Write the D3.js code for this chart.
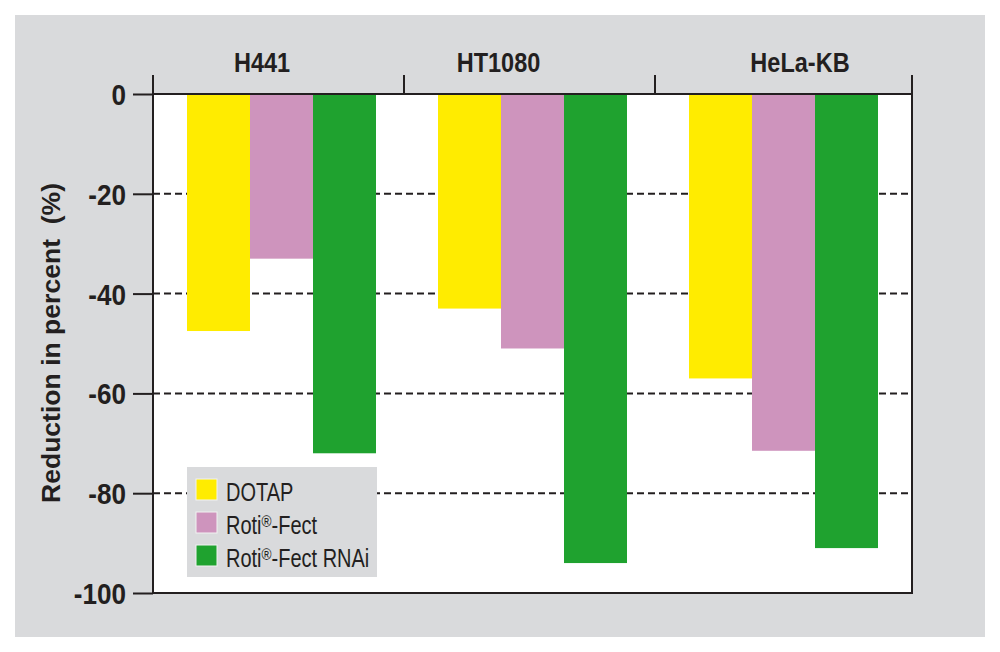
<!DOCTYPE html>
<html><head><meta charset="utf-8">
<script src="https://cdn.jsdelivr.net/npm/d3@7"></script>
<style>
body{margin:0;background:#fff;}
svg{display:block;}
text{font-family:"Liberation Sans",Arial,Helvetica,sans-serif;}
</style></head>
<body><svg id="c" width="1000" height="652"></svg>
<script>
const categories = ["H441", "HT1080", "HeLa-KB"];
const seriesNames = ["DOTAP", "Roti®-Fect", "Roti®-Fect RNAi"];
const dotap = [-47.5, -43, -57];
const rotiFect = [-33, -51, -71.5];
const rotiFectRNAi = [-72, -94, -91];
const yTicks = [0, -20, -40, -60, -80, -100];
const colors = ["#ffec00", "#ce94bd", "#1fa22f"];

const seriesValues = [dotap, rotiFect, rotiFectRNAi];
const svg = d3.select("#c");
const L = 153, R = 912, T = 94, B = 593;
const ink = "#231f20";

svg.append("rect").attr("x",15).attr("y",15).attr("width",970).attr("height",622).attr("fill","#d9dadc");
svg.append("rect").attr("x",L).attr("y",T).attr("width",R-L).attr("height",B-T).attr("fill","#fff");

const x0 = d3.scaleBand().domain(categories).range([L, 906]).paddingInner(0).paddingOuter(0);
const x1 = d3.scaleBand().domain(seriesNames).range([34, 34+189]).padding(0);
const y = d3.scaleLinear().domain([-100, 0]).range([B, T]);

// dashed grid
svg.append("g").selectAll("line").data(yTicks.filter(t => t !== 0 && t !== -100)).join("line")
  .attr("x1", L).attr("x2", R).attr("y1", d => y(d)).attr("y2", d => y(d))
  .attr("stroke", ink).attr("stroke-width", 2).attr("stroke-dasharray", "7,4");

// bars
const rows = [];
categories.forEach((c, i) => seriesNames.forEach((s, j) => rows.push({c, s, j, v: seriesValues[j][i]})));
svg.append("g").selectAll("rect").data(rows).join("rect")
  .attr("x", d => x0(d.c) + x1(d.s))
  .attr("width", x1.bandwidth())
  .attr("y", y(0))
  .attr("height", d => y(d.v) - y(0))
  .attr("fill", d => colors[d.j]);

// y axis
const yAxis = d3.axisLeft(y).tickValues(yTicks).tickSize(20).tickPadding(7).tickFormat(d3.format("d"));
const ga = svg.append("g").attr("transform", `translate(${L},0)`).call(yAxis);
ga.select(".domain").remove();
ga.selectAll(".tick line").attr("stroke", ink).attr("stroke-width", 2);
const tsx = 0.9;
ga.selectAll(".tick text")
  .attr("font-size", 29).attr("font-weight","bold").attr("fill", ink)
  .attr("x", -27 / tsx).attr("dy", "0.36em")
  .attr("transform", `scale(${tsx},1)`)
  .text(d => d === 0 ? "0" : "-" + Math.abs(d));

// frame lines
svg.append("line").attr("x1", L).attr("x2", L).attr("y1", 75).attr("y2", B+1).attr("stroke", ink).attr("stroke-width", 2);
svg.append("line").attr("x1", R).attr("x2", R).attr("y1", 75).attr("y2", B+1).attr("stroke", ink).attr("stroke-width", 2);
svg.append("line").attr("x1", L).attr("x2", R).attr("y1", T).attr("y2", T).attr("stroke", ink).attr("stroke-width", 2);
svg.append("line").attr("x1", L).attr("x2", R+1).attr("y1", B).attr("y2", B).attr("stroke", ink).attr("stroke-width", 2);

// top category separators
const seps = categories.slice(1).map(c => x0(c));
svg.append("g").selectAll("line").data(seps).join("line")
  .attr("x1", d => d).attr("x2", d => d).attr("y1", 75).attr("y2", T)
  .attr("stroke", ink).attr("stroke-width", 2);

// category labels
const labelDx = [-16.5, -31, 19.5];
svg.append("g").selectAll("text").data(categories).join("text")
  .attr("transform", (d, i) => `translate(${x0(d) + x0.bandwidth()/2 + labelDx[i]},72) scale(0.84,1)`)
  .attr("text-anchor","middle").attr("font-size", 28).attr("font-weight","bold").attr("fill", ink)
  .text(d => d);

// y title
svg.append("text")
  .attr("transform", "translate(60,343) rotate(-90)")
  .attr("text-anchor","middle").attr("font-size", 26).attr("font-weight","bold").attr("fill", ink)
  .attr("textLength", 320).attr("lengthAdjust","spacingAndGlyphs")
  .attr("xml:space","preserve")
  .text("Reduction in percent  (%)");

// legend
const lg = svg.append("g").attr("transform","translate(187,467)");
lg.append("rect").attr("width",190).attr("height",110).attr("fill","#d9dadc");
const li = lg.selectAll("g").data(seriesNames).join("g").attr("transform",(d,i)=>`translate(9,${12+i*33})`);
li.append("rect").attr("width",21).attr("height",21).attr("fill",(d,i)=>colors[i]).attr("stroke","#f2f2f2").attr("stroke-width",1);
li.append("text").attr("transform","translate(30,22) scale(0.8,1)").attr("font-size",25).attr("fill",ink)
  .each(function(d){
    const t = d3.select(this);
    const parts = d.split("®");
    t.append("tspan").text(parts[0]);
    if (parts.length > 1) {
      t.append("tspan").attr("font-size",17).attr("dy",-7).text("®");
      t.append("tspan").attr("dy",7).text(parts[1]);
    }
  });
</script></body></html>
